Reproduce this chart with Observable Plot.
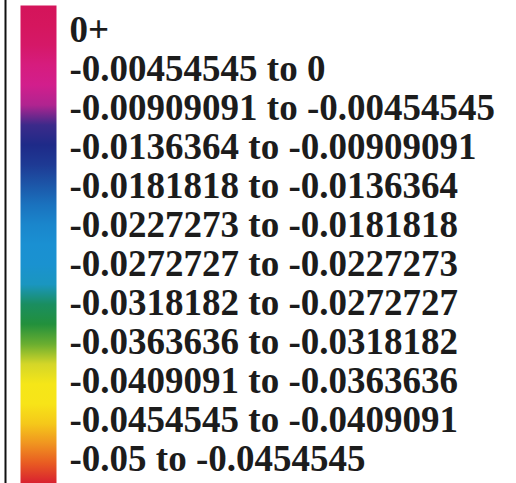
<!DOCTYPE html>
<html>
<head>
<meta charset="utf-8">
<script src="https://cdn.jsdelivr.net/npm/d3@7"></script>
<script src="https://cdn.jsdelivr.net/npm/@observablehq/plot@0.6"></script>
<style>
  html, body { margin: 0; padding: 0; background: #fff; }
  #chart svg { display: block; background: #fff; }
</style>
</head>
<body>
<div id="chart"></div>
<script>
// Legend classes, top to bottom
const classLabels = [
  "0+",
  "-0.00454545 to 0",
  "-0.00909091 to -0.00454545",
  "-0.0136364 to -0.00909091",
  "-0.0181818 to -0.0136364",
  "-0.0227273 to -0.0181818",
  "-0.0272727 to -0.0227273",
  "-0.0318182 to -0.0272727",
  "-0.0363636 to -0.0318182",
  "-0.0409091 to -0.0363636",
  "-0.0454545 to -0.0409091",
  "-0.05 to -0.0454545"
];

// Colour ramp of the legend bar, sampled evenly from top to bottom
const rampColors = [
  "#d4145a", "#d5165e", "#d51868", "#d61c7e", "#d21e8c",
  "#b02490", "#3c2a8a", "#1e2a88", "#1e3a94", "#1c56a8",
  "#1a72be", "#1a86cc", "#1a90d2", "#1a92d0", "#1a96c0",
  "#1a8e60", "#22903c", "#6aae30", "#d4d628", "#f5e618",
  "#f7e418", "#f5c81a", "#f09420", "#e85a22", "#d82030"
];

const plot = Plot.plot({
  width: 516,
  height: 483,
  marginLeft: 20,
  marginRight: 460,
  marginTop: 5,
  marginBottom: 0,
  x: {axis: null, domain: [0, 1]},
  y: {type: "band", domain: classLabels, axis: null, padding: 0},
  marks: [
    Plot.frame({fill: "url(#ramp)", stroke: null}),
    Plot.ruleX([0], {dx: -15, stroke: "#111", strokeWidth: 2, insetTop: -5}),
    Plot.text(classLabels, {
      y: d => d,
      frameAnchor: "left",
      textAnchor: "start",
      dx: 49,
      text: d => d,
      fontSize: 37,
      fontWeight: "bold",
      fontFamily: "'Liberation Serif', 'Times New Roman', serif",
      fill: "#1c1c1c"
    })
  ]
});

// Vertical gradient used by the legend bar
const svg = d3.select(plot);
const grad = svg.insert("defs", ":first-child")
  .append("linearGradient")
  .attr("id", "ramp")
  .attr("x1", 0).attr("y1", 0).attr("x2", 0).attr("y2", 1);
grad.selectAll("stop")
  .data(rampColors)
  .join("stop")
  .attr("offset", (d, i) => i / (rampColors.length - 1))
  .attr("stop-color", d => d);
svg.selectAll("g[aria-label=frame] rect, rect[aria-label=frame]").attr("fill", "url(#ramp)");

document.getElementById("chart").appendChild(plot);
</script>
</body>
</html>
